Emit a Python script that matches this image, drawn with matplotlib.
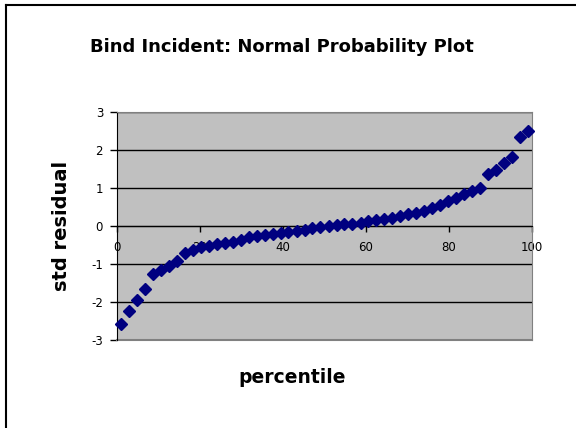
import matplotlib
matplotlib.use("Agg")
import matplotlib.pyplot as plt
from matplotlib.lines import Line2D

# percentile vs standardized residual
percentile = [1.0, 2.9, 4.8, 6.7, 8.7, 10.6, 12.5, 14.4, 16.3, 18.3,
              20.2, 22.1, 24.0, 26.0, 27.9, 29.8, 31.7, 33.7, 35.6, 37.5,
              39.4, 41.3, 43.3, 45.2, 47.1, 49.0, 51.0, 52.9, 54.8, 56.7,
              58.7, 60.6, 62.5, 64.4, 66.3, 68.3, 70.2, 72.1, 74.0, 76.0,
              77.9, 79.8, 81.7, 83.7, 85.6, 87.5, 89.4, 91.3, 93.3, 95.2,
              97.1, 99.0]
std_resid = [-2.58, -2.24, -1.96, -1.67, -1.27, -1.15, -1.05, -0.92, -0.72, -0.62,
             -0.56, -0.52, -0.48, -0.45, -0.42, -0.38, -0.30, -0.26, -0.24, -0.21,
             -0.18, -0.16, -0.13, -0.10, -0.05, -0.02, 0.00, 0.02, 0.04, 0.06,
             0.09, 0.12, 0.15, 0.18, 0.22, 0.27, 0.32, 0.35, 0.40, 0.48,
             0.56, 0.66, 0.75, 0.84, 0.92, 1.00, 1.38, 1.48, 1.65, 1.82,
             2.35, 2.50]

x_ticks = [0, 20, 40, 60, 80, 100]
y_ticks = [-3, -2, -1, 0, 1, 2, 3]

plt.rcParams['font.family'] = ['DejaVu Sans']
plt.rcParams['axes.unicode_minus'] = False

fig = plt.figure(figsize=(5.76, 4.28), dpi=100)
fig.patch.set_facecolor('white')
ax = fig.add_axes([117/576, 1 - 340/428, 415/576, 228/428])
ax.set_facecolor('#C0C0C0')

ax.plot(percentile, std_resid, linestyle='none', marker='D', markersize=6,
        color='#000080', markeredgecolor='#000080', zorder=3, clip_on=False)

ax.set_xlim(0, 100)
ax.set_ylim(-3, 3)
ax.set_xticks(x_ticks)
ax.set_yticks(y_ticks)
ax.yaxis.grid(True, color='black', linewidth=1)
ax.set_axisbelow(True)

# x axis crosses at zero, Excel style
ax.spines['bottom'].set_position(('data', 0))
ax.spines['bottom'].set_color('black')
ax.spines['left'].set_color('black')
for s in ['top', 'right']:
    ax.spines[s].set_color('#808080')
ax.axhline(-3, color='#808080', linewidth=1.5, clip_on=False, zorder=1)

ax.tick_params(axis='x', direction='out', length=4, width=1, labelsize=8.5, pad=7)
ax.tick_params(axis='y', direction='out', length=5, width=1, labelsize=8.5, pad=5)

fig.text(282/576, 1 - 52/428, 'Bind Incident: Normal Probability Plot',
         ha='center', va='baseline', fontsize=13, fontweight='bold')
fig.text(67/576, 1 - 226/428, 'std residual', rotation=90, rotation_mode='anchor',
         ha='center', va='baseline', fontsize=14, fontweight='bold')
fig.text(292/576, 1 - 383/428, 'percentile',
         ha='center', va='baseline', fontsize=13.5, fontweight='bold')

# chart border (only left and top edges visible in the crop)
fig.add_artist(Line2D([6/576, 6/576], [0, 1 - 5/428], color='black',
                      linewidth=1.5, transform=fig.transFigure))
fig.add_artist(Line2D([6/576, 1], [1 - 5/428, 1 - 5/428], color='black',
                      linewidth=1.5, transform=fig.transFigure))

fig.savefig('out.png', dpi=100)
